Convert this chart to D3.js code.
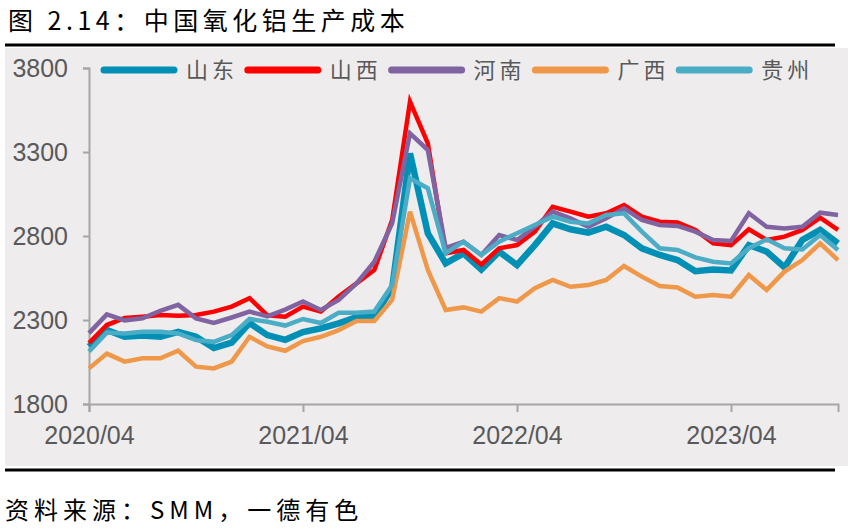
<!DOCTYPE html>
<html>
<head>
<meta charset="utf-8">
<script src="https://cdn.jsdelivr.net/npm/d3@7"></script>
<style>
body{margin:0;background:#fff}
svg{display:block}
</style>
</head>
<body>
<div id="chart"></div>
<script>
const months=["2020/04","2020/05","2020/06","2020/07","2020/08","2020/09","2020/10","2020/11","2020/12",
"2021/01","2021/02","2021/03","2021/04","2021/05","2021/06","2021/07","2021/08","2021/09","2021/10","2021/11","2021/12",
"2022/01","2022/02","2022/03","2022/04","2022/05","2022/06","2022/07","2022/08","2022/09","2022/10","2022/11","2022/12",
"2023/01","2023/02","2023/03","2023/04","2023/05","2023/06","2023/07","2023/08","2023/09","2023/10"]

const shandong=[2141,2240,2200,2207,2200,2230,2200,2133,2165,2282,2210,2182,2228,2250,2280,2316,2324,2490,3292,2816,2637,2697,2600,2707,2627,2746,2875,2840,2820,2855,2806,2727,2687,2657,2590,2600,2595,2746,2707,2613,2776,2836,2756]
const shanxi=[2163,2270,2312,2320,2330,2326,2330,2350,2380,2430,2328,2320,2380,2350,2440,2518,2598,2895,3600,3351,2697,2717,2630,2727,2746,2826,2974,2945,2915,2935,2984,2915,2885,2880,2836,2756,2746,2840,2776,2796,2836,2909,2836]
const henan=[2222,2333,2298,2310,2355,2390,2310,2283,2315,2350,2322,2362,2410,2360,2420,2518,2647,2875,3411,3312,2730,2766,2687,2806,2776,2855,2945,2905,2855,2905,2964,2895,2866,2860,2826,2776,2770,2935,2855,2845,2855,2939,2925]
const guangxi=[2012,2100,2052,2072,2072,2117,2022,2012,2052,2200,2143,2117,2175,2200,2240,2294,2294,2420,2945,2598,2360,2375,2350,2430,2410,2489,2538,2498,2508,2538,2621,2558,2502,2494,2439,2449,2439,2568,2479,2588,2657,2756,2657]
const guizhou=[2112,2225,2220,2230,2230,2220,2180,2170,2210,2306,2290,2267,2306,2282,2343,2343,2350,2508,3143,3084,2697,2766,2687,2766,2816,2866,2915,2885,2875,2925,2935,2826,2727,2717,2673,2647,2637,2727,2780,2727,2720,2806,2717]

const seriesNames=["山东","山西","河南","广西","贵州"]
const seriesValues=[shandong,shanxi,henan,guangxi,guizhou]
const colors=["#0090b6","#ff0000","#8064a2","#f0984a","#4bacc6"]
const widths=[6.5,4.5,4.5,4.5,4.5]

const yTicks=[1800,2300,2800,3300,3800]
const xTickLabels=["2020/04","2021/04","2022/04","2023/04"]

const width=850
const height=531

const svg=d3.select("#chart").append("svg")
.attr("width",width)
.attr("height",height)

svg.append("rect")
.attr("x",5).attr("y",48)
.attr("width",843).attr("height",418)
.attr("fill","#eeeced")

svg.append("rect").attr("x",5).attr("y",43.5).attr("width",830).attr("height",3).attr("fill","#000")
svg.append("rect").attr("x",5).attr("y",468.5).attr("width",830).attr("height",3).attr("fill","#000")

svg.append("text")
.attr("x",8).attr("y",30)
.attr("font-family","Noto Sans CJK SC")
.attr("font-size",25)
.attr("letter-spacing",4.5)
.attr("fill","#000")
.text("图 2.14：中国氧化铝生产成本")

svg.append("text")
.attr("x",5).attr("y",519)
.attr("font-family","Noto Sans CJK SC")
.attr("font-size",24)
.attr("letter-spacing",5)
.attr("fill","#000")
.text("资料来源：SMM，一德有色")

const x=d3.scaleLinear().domain([0,months.length-1]).range([89,838])
const y=d3.scaleLinear().domain([1800,3800]).range([404,68])

const axisColor="#a6a6a6"
const labelFont="Liberation Sans Narrow, Arial Narrow, sans-serif"

const yAxis=svg.append("g")
.attr("transform","translate(89,0)")
.call(d3.axisLeft(y).tickValues(yTicks).tickSize(6).tickPadding(15).tickFormat(d3.format("d")))
yAxis.select(".domain").attr("stroke",axisColor).attr("stroke-width",2)
yAxis.selectAll(".tick line").attr("stroke",axisColor).attr("stroke-width",2)
yAxis.selectAll(".tick text")
.attr("font-family",labelFont)
.attr("font-size",25)
.attr("fill","#595959")

const xAxis=svg.append("g")
.attr("transform","translate(0,404)")
.call(d3.axisBottom(x).tickValues(xTickLabels.map(m=>months.indexOf(m))).tickSize(8).tickPadding(14).tickFormat(i=>months[i]))
xAxis.select(".domain").attr("stroke",axisColor).attr("stroke-width",2)
xAxis.selectAll(".tick line").attr("stroke",axisColor).attr("stroke-width",2)
xAxis.selectAll(".tick text")
.attr("font-family",labelFont)
.attr("font-size",25)
.attr("fill","#595959")

const line=d3.line()
.x((d,i)=>x(i))
.y(d=>y(d))

svg.append("g")
.selectAll("path")
.data(seriesValues)
.enter()
.append("path")
.attr("d",line)
.attr("fill","none")
.attr("stroke",(d,i)=>colors[i])
.attr("stroke-width",(d,i)=>widths[i])
.attr("stroke-linejoin","miter")

const legend=svg.append("g")
.selectAll("g")
.data(seriesNames)
.enter()
.append("g")
.attr("transform",(d,i)=>`translate(${102+i*143.8},70)`)

legend.append("line")
.attr("x1",2).attr("x2",72)
.attr("y1",0).attr("y2",0)
.attr("stroke",(d,i)=>colors[i])
.attr("stroke-width",7)
.attr("stroke-linecap","round")

legend.append("text")
.attr("x",84).attr("y",8)
.attr("font-family","Noto Sans CJK SC")
.attr("font-size",22)
.attr("letter-spacing",4)
.attr("fill","#595959")
.text(d=>d)
</script>
</body>
</html>
